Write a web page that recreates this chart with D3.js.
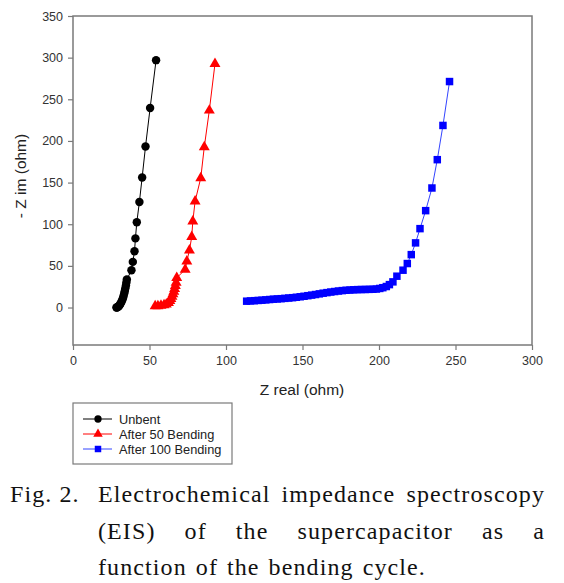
<!DOCTYPE html>
<html><head><meta charset="utf-8">
<script src="https://cdn.jsdelivr.net/npm/d3@7"></script>
<style>body{margin:0;background:#fff}svg{display:block}</style>
</head><body>
<svg id="c" width="564" height="583"></svg>
<script>
// ---- data ----
const unbentX = [28.4,28.7,29.2,29.7,30.2,30.7,31.2,31.7,32.2,32.7,33.1,33.5,33.9,34.2,34.6,34.9,35.2,38.2,39.1,40.2,40.8,41.7,43.4,45.2,47.4,50.4,54.3];
const unbentY = [0,0.1,0.5,1.2,2.2,3.5,5,7,9,11.5,14,17,20,23,26.5,30,33.6,44.7,54.8,67.5,83,102.3,126.7,156.2,193.4,239.5,297];
const bend50X = [53.7,55.5,57.5,59.5,61,62.4,63.3,64,64.7,65.3,65.9,66.4,66.9,67.4,67.8,73.3,74.4,76.1,77.6,78.3,79.8,83.5,85.8,89.1,92.8];
const bend50Y = [1.6,1.8,2.2,2.8,3.8,5.6,8,10.5,13,16,19,22.5,26,30,35.6,45.6,55.5,68.7,84.8,103.5,127.5,155.5,192.6,236.6,292.6];
const bend100X = [113.5,116,118.5,121,123.5,126,128.5,131,133.5,136,138.5,141,143.5,146,148.5,151,153.5,156,158.5,161,163.5,166,168.5,171,173.5,176,178.5,181,183.5,186,188.5,191,193.5,196,198.3,200.5,202.5,204.8,206.8,209.1,211.7,215.7,218.5,221.1,223.9,226.8,230.5,234.6,238.1,241.8,246.1];
const bend100Y = [7.6,7.9,8.2,8.5,8.8,9.2,9.6,10.0,10.3,10.6,11.0,11.4,11.8,12.3,12.9,13.5,14.2,14.9,15.6,16.4,17.2,17.9,18.6,19.2,19.8,20.3,20.7,21.0,21.3,21.5,21.6,21.7,21.8,21.9,22.2,22.9,23.8,25.2,27.5,30.8,37.6,44.8,52.8,63.5,77.6,94.7,116.3,143.5,177.5,218.6,271.3];
const seriesNames = ["Unbent","After 50 Bending","After 100 Bending"];
const xTicks = [0,50,100,150,200,250,300];
const yTicks = [0,50,100,150,200,250,300,350];
const xLabel = "Z real (ohm)";
const yLabel = "- Z im (ohm)";
const captionLines = [
  ["Fig. 2.", "Electrochemical impedance spectroscopy", true],
  ["", "(EIS) of the supercapacitor as a", true],
  ["", "function of the bending cycle.", false]
];

const series = [
  {name: seriesNames[0], xs: unbentX, ys: unbentY, color: "#000000", line: "#000000", sym: d3.symbolCircle, size: 56},
  {name: seriesNames[1], xs: bend50X, ys: bend50Y, color: "#ff0000", line: "#ff0000", sym: d3.symbolTriangle, size: 52},
  {name: seriesNames[2], xs: bend100X, ys: bend100Y, color: "#0000ff", line: "#3344ff", sym: d3.symbolSquare, size: 56}
];

const svg = d3.select("#c");
const x = d3.scaleLinear().domain([0,300]).range([73,532]);
const y = d3.scaleLinear().domain([-45,350]).range([345,16]);
const axisCol = "#7a7a7a";
const font = "'Liberation Sans', Arial, sans-serif";

// frame
svg.append("rect").attr("x",73).attr("y",16).attr("width",459).attr("height",329)
  .attr("fill","none").attr("stroke",axisCol).attr("stroke-width",1.5);

const gx = svg.append("g").attr("transform","translate(0,345)")
  .call(d3.axisBottom(x).tickValues(xTicks).tickSize(5).tickPadding(6).tickFormat(d3.format("d")));
const gy = svg.append("g").attr("transform","translate(73,0)")
  .call(d3.axisLeft(y).tickValues(yTicks).tickSize(5).tickPadding(5).tickFormat(d3.format("d")));
[gx,gy].forEach(g=>{
  g.select(".domain").remove();
  g.selectAll("line").attr("stroke",axisCol).attr("stroke-width",1.2);
  g.selectAll("text").attr("fill","#333").style("font-family",font).style("font-size","12.5px");
});

svg.append("text").attr("x",302).attr("y",395).attr("text-anchor","middle")
  .style("font-family",font).style("font-size","15.5px").attr("fill","#222").text(xLabel);
svg.append("text").attr("transform","translate(26,176) rotate(-90)").attr("text-anchor","middle")
  .style("font-family",font).style("font-size","15.5px").attr("fill","#222").text(yLabel);

// series
const plot = svg.append("g");
series.forEach(s=>{
  const pts = s.xs.map((v,i)=>[v,s.ys[i]]);
  plot.append("path").datum(pts)
    .attr("d", d3.line().x(d=>x(d[0])).y(d=>y(d[1])))
    .attr("fill","none").attr("stroke",s.line).attr("stroke-width",1);
  plot.selectAll(null).data(pts).enter().append("path")
    .attr("d", d3.symbol().type(s.sym).size(s.size))
    .attr("transform", d=>`translate(${x(d[0])},${y(d[1])})`)
    .attr("fill",s.color);
});

// legend
const lg = svg.append("g");
lg.append("rect").attr("x",73).attr("y",403).attr("width",159).attr("height",61)
  .attr("fill","#fff").attr("stroke",axisCol).attr("stroke-width",1.2);
series.forEach((s,i)=>{
  const yy = 419 + i*15;
  lg.append("line").attr("x1",83).attr("x2",112).attr("y1",yy).attr("y2",yy)
    .attr("stroke",s.line).attr("stroke-width",1);
  lg.append("path").attr("d", d3.symbol().type(s.sym).size(s.size*0.75))
    .attr("transform",`translate(98,${yy})`).attr("fill",s.color);
  lg.append("text").attr("x",119).attr("y",yy+4.5).style("font-family",font)
    .style("font-size","12.8px").attr("fill","#222").text(s.name);
});

// caption
const serif = "'Liberation Serif', 'Times New Roman', serif";
const baselines = [502, 539, 575];
const left = 98, right = 545;
const ls = "1.1px";
captionLines.forEach((ln,i)=>{
  if (ln[0]) svg.append("text").attr("x",10).attr("y",baselines[i])
    .style("font-family",serif).style("font-size","24px").style("letter-spacing",ls).attr("fill","#111").text(ln[0]);
  const words = ln[1].split(" ");
  const nodes = words.map(w=>svg.append("text").attr("y",baselines[i])
    .style("font-family",serif).style("font-size","24px").style("letter-spacing",ls).attr("fill","#111").text(w));
  const widths = nodes.map(n=>n.node().getComputedTextLength());
  const total = d3.sum(widths);
  const gap = ln[2] ? (right-left-total)/(words.length-1) : 9;
  let cx = left;
  nodes.forEach((n,j)=>{ n.attr("x",cx); cx += widths[j] + gap; });
});
</script>
</body></html>
